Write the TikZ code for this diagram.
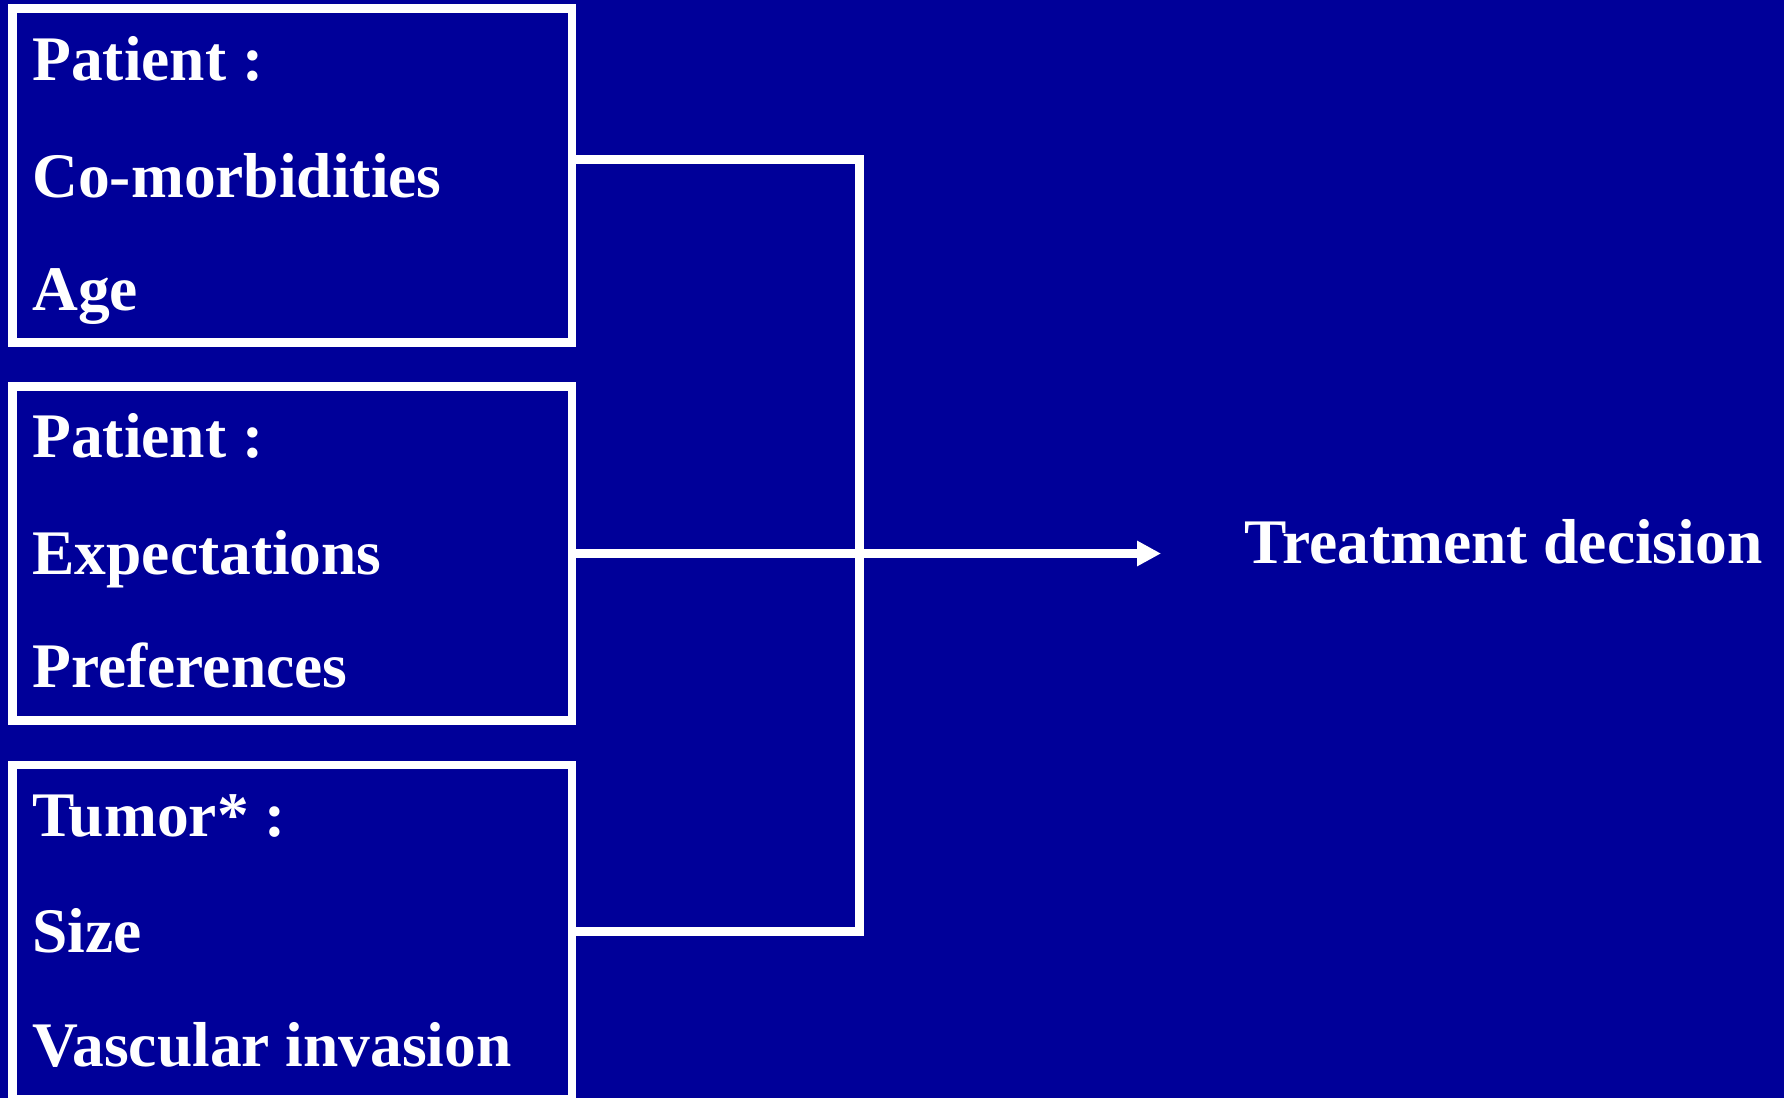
\documentclass[tikz,border=0pt]{standalone}
\usepackage{fontspec}
\setmainfont{Liberation Serif}
\usetikzlibrary{arrows.meta}
\definecolor{bgblue}{HTML}{000099}
\begin{document}
\begin{tikzpicture}[x=0.5pt,y=-0.5pt,
  box/.style={draw=white,line width=4.25pt,rectangle,inner sep=0pt,outer sep=0pt,
    minimum width=279.75pt,minimum height=167pt},
  lbl/.style={text=white,anchor=base west,inner sep=0pt,
    font=\fontsize{31.75}{38}\selectfont\bfseries},
  conn/.style={draw=white,line width=4.25pt}]
\fill[bgblue] (0,0) rectangle (1784,1098);
\useasboundingbox (0,0) rectangle (1784,1098);
% boxes
\node[box] (b1) at (292.25,175.6) {};
\node[box] (b2) at (292.25,553.5) {};
\node[box] (b3) at (292.25,932) {};
% texts
\node[lbl] (t11) at (32,80) {Patient :};
\node[lbl] (t12) at (32,197) {Co-morbidities};
\node[lbl] (t13) at (32,310) {Age};
\node[lbl] (t21) at (32,457.5) {Patient :};
\node[lbl] (t22) at (32,574.5) {Expectations};
\node[lbl] (t23) at (32,687.5) {Preferences};
\node[lbl] (t31) at (32,836.5) {Tumor* :};
\node[lbl] (t32) at (32,952) {Size};
\node[lbl] (t33) at (32,1066.5) {Vascular invasion};
\node[lbl] (td) at (1244,563) {Treatment decision};
% connectors
\coordinate (j1) at (859.5,159.5);
\coordinate (j3) at (859.5,931.5);
\coordinate (tip) at (1161,553.5);
\draw[conn,line join=miter] (b1.east |- j1) -- (j1) -- (j3) -- (b3.east |- j3);
\draw[conn,-{Triangle[length=12pt,width=12pt]}] (b2.east) -- (tip);
\end{tikzpicture}
\end{document}
